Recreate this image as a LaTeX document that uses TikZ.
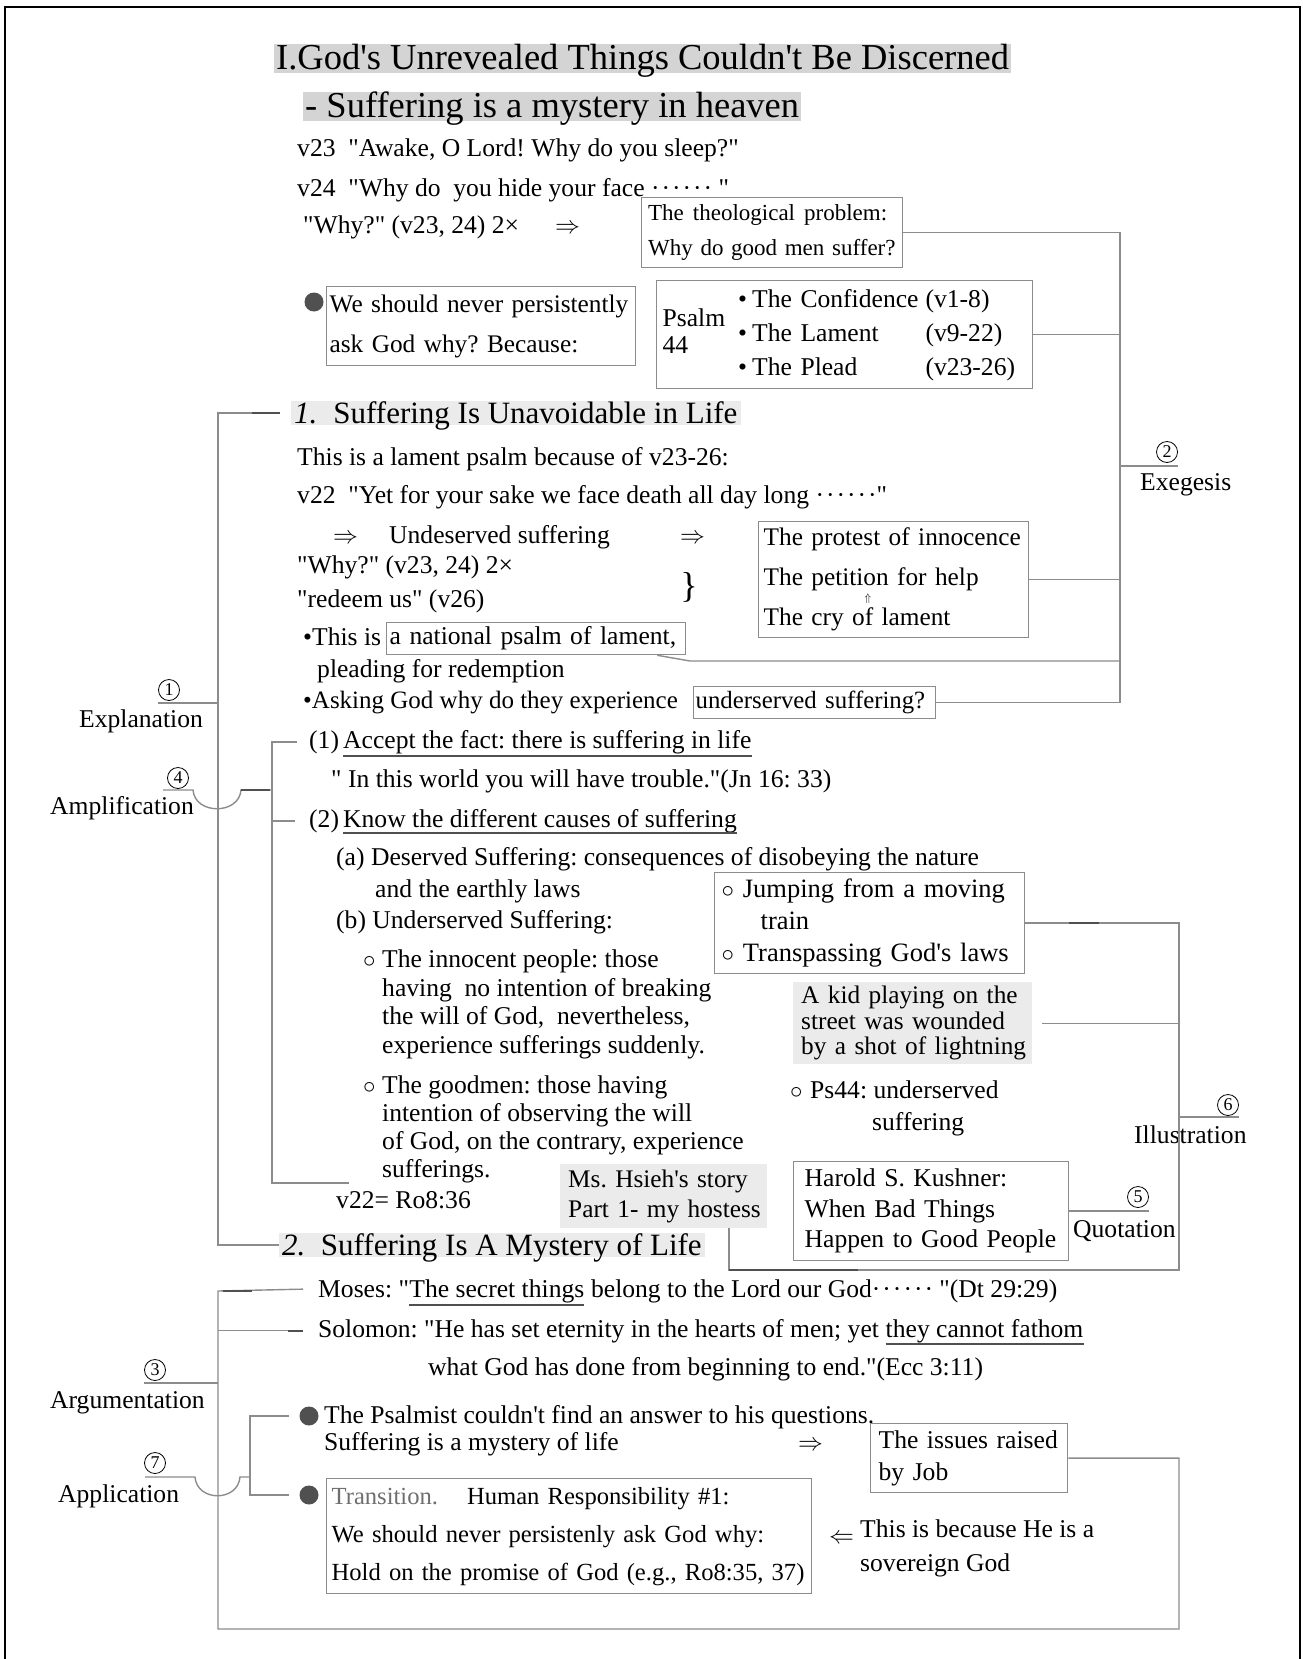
\documentclass[tikz,border=0pt]{standalone}
\usepackage{fontspec}
\setmainfont{Liberation Serif}[Ligatures=TeXOff]
\usepackage{xcolor}
\usepackage{tikz}

\definecolor{linegray}{HTML}{8C8C8C}
\definecolor{darkline}{HTML}{505050}
\definecolor{boxgray}{HTML}{8C8C8C}
\definecolor{titlebg}{HTML}{D4D4D4}
\definecolor{headbg}{HTML}{EBEBEB}
\definecolor{notebg}{HTML}{EBEBEB}
\definecolor{dotgray}{HTML}{505050}
\definecolor{transgray}{HTML}{6E6E6E}
\newcommand{\txtsize}[2]{\fontsize{#1}{#2}\selectfont}
\newcommand{\mdots}{·\kern2pt·\kern2pt·\kern2pt·\kern2pt·\kern2pt·}
\frenchspacing

\begin{document}
\begin{tikzpicture}[x=1pt, y=-1pt,
      txt/.style={anchor=base west, inner sep=0pt, font=\txtsize{25.6}{30}},
      maintitle/.style={anchor=base west, fill=titlebg, inner xsep=2pt, inner ysep=1pt, text height=25pt, text depth=2pt, font=\txtsize{36.5}{40}},
      heading/.style={anchor=base west, fill=headbg, inner xsep=3pt, inner ysep=0.5pt, text height=21.5pt, text depth=1.5pt, font=\txtsize{31}{34}},
      box/.style={draw=boxgray, line width=1.3pt, anchor=north west, align=left, inner ysep=0pt, font=\txtsize{25.6}{30}},
      graynote/.style={fill=notebg, anchor=north west, align=left, inner ysep=0pt, font=\txtsize{25.6}{30}},
      conn/.style={draw=linegray, line width=1.4pt},
      darkseg/.style={draw=darkline, line width=2pt},
      uline/.style={draw=darkline, line width=1.3pt},
      circnum/.style={circle, draw=black, line width=0.8pt, inner sep=0pt, minimum size=21pt, font=\txtsize{18}{18}},
      bigdot/.style={circle, fill=dotgray, inner sep=0pt, minimum size=19pt}]
    \useasboundingbox (0,0) rectangle (1302,1659);
    \draw[black, line width=2pt] (5,1659) -- (5,7) -- (1300,7) -- (1300,1659);

    \node[maintitle] (title) at (274,70) {I.God's Unrevealed Things Couldn't Be Discerned};
    \node[maintitle] (subtitle) at (303,118) {- Suffering is a mystery in heaven};
    \node[txt] (v23) at (297,157) {v23\ \ "Awake, O Lord! Why do you sleep?"};
    \node[txt] (v24) at (297,196) {v24\ \ "Why do\ \ you hide your face \mdots\ "};
    \node[txt] (whyA) at (303,233) {"Why?" (v23, 24) 2×};
    \node[txt] (impA) at (555,233) {$\Rightarrow$};
    \node[box, text width=254pt, inner xsep=3.5pt, minimum height=70pt, font=\txtsize{23}{35}] (problem) at (641,197) {\hspace{3pt}The\hspace{9pt}theological\hspace{9pt}problem:\\\hspace{3pt}Why do good men suffer?};

    \node[bigdot] (dotA) at (314,302) {};
    \node[box, text width=303pt, inner xsep=3pt, minimum height=79pt, font=\txtsize{25.3}{40}] (never) at (326,286) {We should never persistently\\ask God why? Because:};
    \node[box, text width=364pt, inner xsep=6pt, minimum height=108pt, font=\txtsize{25.6}{34}] (psalm) at (656,280) {{\def\arraystretch{0.8}\begin{tabular}[c]{@{}l@{}}Psalm\\44\end{tabular}}\hspace{13pt}%
      \begin{tabular}[c]{@{}l@{\hspace{5pt}}l@{\hspace{7pt}}l@{}}•&The Confidence&(v1-8)\\•&The Lament&(v9-22)\\•&The Plead&(v23-26)\end{tabular}};

    \node[heading] (partA) at (291,423) {\textit{1.}\hspace{16pt}Suffering Is Unavoidable in Life};
    \node[txt] (lament) at (297,465) {This is a lament psalm because of v23-26:};
    \node[txt] (v22) at (297,503) {v22\ \ "Yet for your sake we face death all day long \mdots"};
    \node[txt] (impB) at (333,543) {$\Rightarrow$};
    \node[txt] (undeserved) at (389,543) {Undeserved suffering};
    \node[txt] (impC) at (680,543) {$\Rightarrow$};
    \node[txt] (whyB) at (297,573) {"Why?" (v23, 24) 2×};
    \node[txt] (redeem) at (297,607) {"redeem us" (v26)};
    \node[inner sep=0pt, font=\txtsize{36}{36}] (brace) at (689,587) {\}};
    \node[box, text width=266pt, inner xsep=2pt, minimum height=116pt, font=\txtsize{25.3}{40}] (protest) at (758,521) {\hspace{3pt}The protest of innocence\\\hspace{3pt}The petition for help\\\hspace{3pt}The cry of lament};
    \node[inner sep=0pt, font=\txtsize{11}{11}] (uparrow) at (868,599) {$\Uparrow$};
    \node[txt] (bulA) at (303,645) {•This is};
    \node[box, text width=293pt, inner xsep=3pt, minimum height=32pt] (national) at (386,622) {a national psalm of lament,};
    \node[txt, font=\txtsize{25}{30}] (bulB) at (303,708) {•Asking God why do they experience};
    \node[txt] (pleading) at (317,677) {pleading for redemption};
    \node[box, text width=240pt, inner xsep=1pt, minimum height=32pt, font=\txtsize{24.8}{30}] (underserved) at (693,686) {\hspace{1pt}underserved suffering?};

    \node[circnum] (numA) at (169,690) {1};
    \node[txt] (explanation) at (79,727) {Explanation};
    \node[circnum] (numB) at (1167,452) {2};
    \node[txt] (exegesis) at (1140,490) {Exegesis};

    \node[txt] (acceptno) at (309,748) {(1)};
    \node[txt] (accept) at (343,748) {Accept the fact: there is suffering in life};
    \node[txt] (trouble) at (331,787) {" In this world you will have trouble."(Jn 16: 33)};
    \node[txt] (knowno) at (309,827) {(2)};
    \node[txt] (know) at (343,827) {Know the different causes of suffering};
    \node[circnum] (numD) at (178,778) {4};
    \node[txt] (amplification) at (50,814) {Amplification};
    \node[txt] (deserved) at (336,865) {(a) Deserved Suffering: consequences of disobeying the nature};
    \node[txt] (earthly) at (375,897) {and the earthly laws};
    \node[txt] (undeservedB) at (336,928) {(b) Underserved Suffering:};
    \node[txt] (circA) at (363,967) {$\circ$};
    \node[txt, anchor=north west, align=left, font=\txtsize{25.6}{28.7}] (innocent) at (382,949.5) {The innocent people: those\\having\ \ no intention of breaking\\the will of God,\ \ nevertheless,\\experience sufferings suddenly.};
    \node[txt] (circB) at (363,1093) {$\circ$};
    \node[txt, anchor=north west, align=left, font=\txtsize{25.6}{28}] (goodmen) at (382,1075.5) {The goodmen: those having\\intention of observing the will\\of God, on the contrary, experience\\sufferings.};
    \node[txt] (romans) at (336,1208) {v22= Ro8:36};

    \node[box, text width=296pt, inner xsep=7pt, minimum height=101pt, font=\txtsize{26.5}{32}] (jump) at (714,872) {$\circ$ Jumping from a moving\\\hspace{39pt}train\\$\circ$ Transpassing God's laws};
    \node[graynote, text width=231pt, inner xsep=4pt, minimum height=82pt, font=\txtsize{25.3}{25.6}] (kid) at (793,982) {\hspace{4pt}A kid playing on the\\\hspace{4pt}street was wounded\\\hspace{4pt}by a shot of lightning};
    \node[txt] (circC) at (790,1098) {$\circ$};
    \node[txt, anchor=north west, align=left, font=\txtsize{25.6}{32}] (psfour) at (810,1080.5) {Ps44: underserved\\\hspace{62pt}suffering};
    \node[graynote, text width=201pt, inner xsep=3pt, minimum height=64pt, font=\txtsize{25.3}{30}] (story) at (560,1164) {\hspace{5pt}Ms. Hsieh's story\\\hspace{5pt}Part 1- my hostess};
    \node[box, text width=259pt, inner xsep=8pt, minimum height=99pt, font=\txtsize{25.6}{30.5}] (kushner) at (793,1161) {\hspace{3pt}Harold S. Kushner:\\\hspace{3pt}When Bad Things\\\hspace{3pt}Happen to Good People};
    \node[circnum] (numE) at (1138,1197) {5};
    \node[txt] (quotation) at (1073,1237) {Quotation};
    \node[circnum] (numF) at (1228,1105) {6};
    \node[txt] (illustration) at (1134,1143) {Illustration};

    \node[heading] (partB) at (279,1255) {\textit{2.}\ \ Suffering Is A Mystery of Life};
    \node[txt] (moses) at (318,1297) {Moses: "};
    \node[txt] (secret) at (moses.base east) {The secret things};
    \node[txt] (mosesB) at (secret.base east) {\ belong to the Lord our God\mdots\ "(Dt 29:29)};
    \node[txt] (solomon) at (318,1337) {Solomon: "He has set eternity in the hearts of men; yet};
    \node[txt, xshift=6.4pt] (fathom) at (solomon.base east) {they cannot fathom};
    \node[txt] (ecc) at (428,1375) {what God has done from beginning to end."(Ecc 3:11)};
    \node[circnum] (numC) at (155,1370) {3};
    \node[txt] (argumentation) at (50,1408) {Argumentation};
    \node[circnum] (numG) at (155,1463) {7};
    \node[txt] (application) at (58,1502) {Application};

    \node[bigdot] (dotB) at (309,1416) {};
    \node[txt] (psalmist) at (324,1423) {The Psalmist couldn't find an answer to his questions.};
    \node[txt] (mystery) at (324,1450) {Suffering is a mystery of life};
    \node[txt] (impD) at (798,1450) {$\Rightarrow$};
    \node[box, text width=187pt, inner xsep=5pt, minimum height=69pt, font=\txtsize{25.6}{32}] (job) at (870,1423) {\hspace{3pt}The issues raised\\\hspace{3pt}by Job};
    \node[bigdot] (dotC) at (309,1495) {};
    \node[box, text width=483pt, inner xsep=1pt, minimum height=115pt, font=\txtsize{24.6}{38}] (transition) at (326,1478) {\hspace{4pt}{\color{transgray}Transition.}\hspace{29pt}Human Responsibility \#1:\\\hspace{4pt}We should never persistenly ask God why:\\\hspace{4pt}Hold on the promise of God (e.g., Ro8:35, 37)};
    \node[txt] (impE) at (829,1543) {$\Leftarrow$};
    \node[txt, anchor=north west, align=left, font=\txtsize{25.6}{34}] (sovereign) at (860,1519.5) {This is because He is a\\sovereign God};

    \draw[uline] ([yshift=-8pt]accept.base west) -- ([yshift=-8pt]accept.base east);
    \draw[uline] ([yshift=-6pt]know.base west) -- ([yshift=-6pt]know.base east);
    \draw[uline] ([yshift=-8pt]secret.base west) -- ([yshift=-8pt]secret.base east);
    \draw[uline] ([yshift=-7pt]fathom.base west) -- ([yshift=-7pt]fathom.base east);

    \coordinate (exe) at (1120,466);
    \coordinate (natbend) at (690,661);
    \draw[conn] (problem.east) -- (problem.east -| exe) -- (underserved.east -| exe) -- (underserved.east);
    \draw[conn] (psalm.east) -- (psalm.east -| exe);
    \draw[conn] (protest.east) -- (protest.east -| exe);
    \draw[conn] ([xshift=-29pt]national.south east) -- (natbend) -- (natbend -| exe);
    \draw[conn] (exe) -- (exe -| numB.east);

    \coordinate (expl) at (218,703);
    \draw[conn, shorten <=11pt] (partA.west) -- (partA.west -| expl) -- (partB.west -| expl) -- (partB.west);
    \draw[darkseg] ([xshift=-39pt]partA.west) -- ([xshift=-11pt]partA.west);
    \draw[conn] (expl) -- (expl -| numA.west);

    \coordinate (ampl) at (272,790);
    \coordinate (amplend) at (349,1183);
    \coordinate (ampllab) at (163,790);
    \draw[conn, shorten <=12pt] (acceptno.west) -- (acceptno.west -| ampl) -- (ampl |- amplend) -- (amplend);
    \draw[conn, shorten <=14pt] (knowno.west) -- (knowno.west -| ampl);
    \draw[conn] (ampllab) -- ++(30,0) .. controls +(2,25) and +(-2,25) .. ++(48,0) -- (ampl);
    \draw[darkseg] ([xshift=-31pt]ampl) -- ([xshift=-2pt]ampl);

    \coordinate (illu) at (1179,1117);
    \coordinate (storybend) at (729,1270);
    \draw[conn] (jump.east) -- (jump.east -| illu) -- (illu |- storybend) -- (storybend) -- (storybend |- story.south);
    \draw[conn] ([xshift=10pt]kid.east) -- (kid.east -| illu);
    \draw[conn] (illu) -- (illu -| numF.east);
    \draw[darkseg] ([xshift=44pt]jump.east) -- ([xshift=74pt]jump.east);
    \draw[darkseg] (storybend) -- ++(129,0);
    \draw[conn] (kushner.east) -- (kushner.east -| numE.east);

    \coordinate (argu) at (218,1383);
    \coordinate (argutop) at (218,1291);
    \coordinate (argubot) at (218,1629);
    \draw[conn, shorten <=15pt] (moses.west) -- (argutop) -- (argubot) -- (argubot -| illu) -- (illu |- job.east) -- (job.east);
    \draw[conn, shorten <=15pt] (solomon.west) -- (solomon.west -| argu);
    \draw[darkseg] ([xshift=5pt]argutop) -- ([xshift=34pt]argutop);
    \draw[darkseg] ([xshift=-30pt]solomon.west) -- ([xshift=-15pt]solomon.west);
    \draw[conn] (argu) -- (argu -| numC.west);

    \coordinate (appl) at (250,1477);
    \coordinate (appllab) at (145,1477);
    \draw[conn] (appllab) -- ++(50,0) .. controls +(2,25) and +(-2,25) .. ++(45,0) -- (appl);
    \draw[conn, shorten <=10pt, shorten >=10pt] (dotB.west) -- (dotB.west -| appl) -- (dotC.west -| appl) -- (dotC.west);
  \end{tikzpicture}
\end{document}
